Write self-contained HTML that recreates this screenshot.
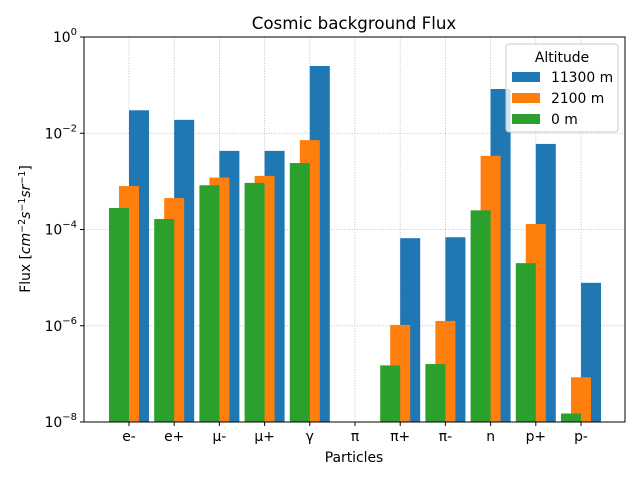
<!DOCTYPE html>
<html><head><meta charset="utf-8"><style>body{margin:0;background:#fff}svg{display:block;font-family:"DejaVu Sans","Liberation Sans",sans-serif}</style></head>
<body>
<svg id="chart" width="640" height="480" viewBox="0 0 640 480" xmlns="http://www.w3.org/2000/svg">
<rect width="640" height="480" fill="#fff"/>
<g id="grid"></g><g id="bars"></g><g id="axes"></g>
</svg>
<script>
const categories=["e-","e+","μ-","μ+","γ","π","π+","π-","n","p+","p-"];
const seriesNames=["11300 m","2100 m","0 m"];
const flux11300=[0.03,0.019,4.3e-3,4.3e-3,0.25,0,6.6e-5,6.9e-5,0.083,6e-3,7.8e-6];
const flux2100=[8e-4,4.5e-4,1.2e-3,1.3e-3,7.2e-3,0,1.04e-6,1.26e-6,3.4e-3,1.3e-4,8.5e-8];
const flux0=[2.8e-4,1.65e-4,8.3e-4,9.3e-4,2.4e-3,0,1.5e-7,1.6e-7,2.5e-4,2e-5,1.5e-8];
const yTickExps=[0,-2,-4,-6,-8];
const NS="http://www.w3.org/2000/svg";
const L=84,R=625,T=37,B=422,step=45.2,x0=129;
const xs=i=>x0+i*step;
const ys=v=>T+(0-Math.log10(v))*(B-T)/8;
function mk(t,a,p){const e=document.createElementNS(NS,t);for(const k in a)e.setAttribute(k,a[k]);(p||document.getElementById('axes')).appendChild(e);return e;}
const grid=document.getElementById('grid'),bars=document.getElementById('bars');
categories.forEach((c,i)=>{const g=mk('line',{x1:xs(i),x2:xs(i),y1:T,y2:B,stroke:'#b0b0b0','stroke-width':0.8,'stroke-dasharray':'1,1.6'},grid);
});
yTickExps.forEach(e=>{const g=mk('line',{x1:L,x2:R,y1:ys(Math.pow(10,e)),y2:ys(Math.pow(10,e)),stroke:'#b0b0b0','stroke-width':0.8,'stroke-dasharray':'1,1.6'},grid);
});
const series=[[flux11300,'#1f77b4',10,'bar-11300m'],[flux2100,'#ff7f0e',0,'bar-2100m'],[flux0,'#2ca02c',-10,'bar-0m']];
series.forEach(([vals,col,off,nm])=>{vals.forEach((v,i)=>{if(!(v>0))return;const y=Math.max(T,ys(v));
const r=mk('rect',{x:xs(i)+off-10,y:y,width:20,height:B-y,fill:col},bars);
});});
const fr=mk('rect',{x:L,y:T,width:R-L,height:B-T,fill:'none',stroke:'#000','stroke-width':1});

categories.forEach((c,i)=>{mk('line',{x1:xs(i),x2:xs(i),y1:B,y2:B+4,stroke:'#000'});
const t=mk('text',{x:xs(i),y:B+19,'text-anchor':'middle','font-size':13.9});t.textContent=c;
});
yTickExps.forEach(e=>{const y=ys(Math.pow(10,e));mk('line',{x1:L-4,x2:L,y1:y,y2:y,stroke:'#000'});
const t=mk('text',{x:L-7,y:y+5,'text-anchor':'end','font-size':13.9});t.textContent='10';
const s=mk('tspan',{dy:-7,'font-size':10});s.textContent=e===0?'0':'−'+(-e);t.appendChild(s);
});
</script>
<svg style="position:absolute;left:0;top:0" width="640" height="480" xmlns="http://www.w3.org/2000/svg">
<text x="354" y="29" text-anchor="middle" font-size="16.7">Cosmic background Flux</text>
<text x="354" y="462" text-anchor="middle" font-size="13.9">Particles</text>
<text transform="translate(30,229) rotate(-90)" text-anchor="middle" font-size="13.9">Flux [<tspan font-style="italic">cm</tspan><tspan font-size="9.5" dy="-5">−2</tspan><tspan dy="5" font-style="italic">s</tspan><tspan font-size="9.5" dy="-5">−1</tspan><tspan dy="5" font-style="italic">sr</tspan><tspan font-size="9.5" dy="-5">−1</tspan><tspan dy="5">]</tspan></text>
<g>
<rect x="506" y="44" width="112" height="88" rx="3" fill="#fff" fill-opacity="0.8" stroke="#ccc"/>
<text x="562" y="62" text-anchor="middle" font-size="13.9">Altitude</text>
<g><rect x="512" y="72" width="28" height="10" fill="#1f77b4"/><text x="551" y="82" font-size="13.9">11300 m</text></g>
<g><rect x="512" y="93" width="28" height="10" fill="#ff7f0e"/><text x="551" y="103" font-size="13.9">2100 m</text></g>
<g><rect x="512" y="114" width="28" height="10" fill="#2ca02c"/><text x="551" y="124" font-size="13.9">0 m</text></g>
</g>
</svg>
</body></html>
